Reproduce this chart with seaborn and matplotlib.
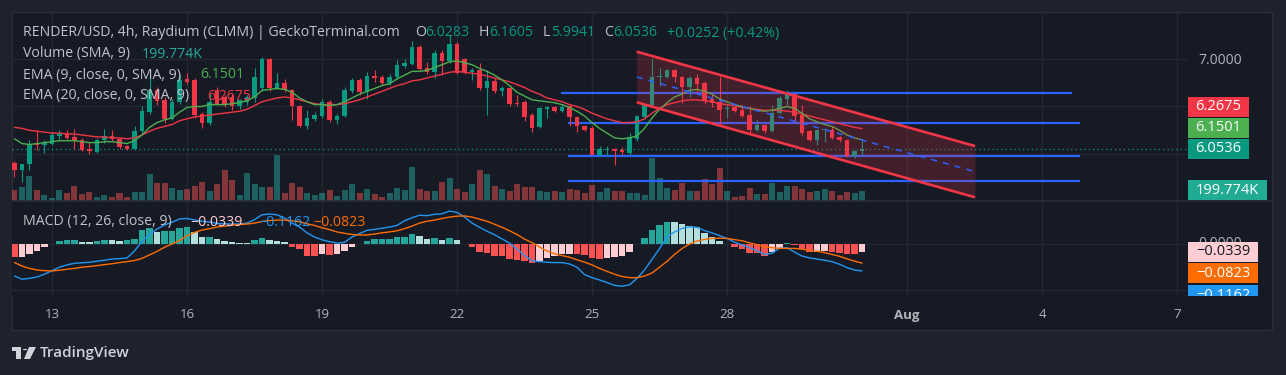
import numpy as np
import pandas as pd
import matplotlib
matplotlib.use("Agg")
import matplotlib.pyplot as plt
import matplotlib.transforms as mtransforms
import seaborn as sns
from matplotlib.patches import Rectangle, Polygon, Circle
from matplotlib.lines import Line2D

# ---------------- data ----------------
first_index = -5   # candle index 0 = Jul 13 00:00, 4h candles
opens = [5.91, 5.83, 5.89, 6.12, 6.09, 6.11, 6.19, 6.22, 6.18, 6.15, 6.05, 6.02, 6.15, 6.19, 6.16, 6.08,
         6.05, 6.24, 6.44, 6.67, 6.57, 6.37, 6.55, 6.79, 6.78, 6.42, 6.33, 6.67, 6.60, 6.60, 6.50, 6.55,
         6.59, 6.69, 7.00, 6.69, 6.75, 6.67, 6.51, 6.30, 6.37, 6.40, 6.55, 6.36, 6.40, 6.66, 6.78, 6.65,
         6.82, 6.81, 6.75, 6.81, 6.93, 6.95, 7.13, 6.91, 6.86, 7.06, 6.98, 7.16, 7.00, 6.86, 6.88, 6.69,
         6.77, 6.66, 6.69, 6.54, 6.55, 6.41, 6.28, 6.47, 6.49, 6.45, 6.51, 6.39, 6.30, 6.27, 5.99, 6.04,
         6.05, 6.04, 6.01, 6.16, 6.39, 6.52, 6.81, 6.81, 6.88, 6.81, 6.71, 6.80, 6.75, 6.58, 6.55, 6.47,
         6.49, 6.46, 6.41, 6.25, 6.31, 6.24, 6.43, 6.58, 6.63, 6.41, 6.24, 6.15, 6.25, 6.25, 6.18, 6.15,
         5.98, 6.0283]
highs = [5.93, 5.90, 6.15, 6.25, 6.15, 6.23, 6.25, 6.25, 6.26, 6.17, 6.13, 6.17, 6.26, 6.25, 6.17, 6.10,
         6.30, 6.51, 6.80, 6.70, 6.60, 6.58, 6.83, 6.85, 6.80, 6.44, 6.64, 6.70, 6.62, 6.63, 6.58, 6.62,
         6.90, 7.02, 7.01, 6.85, 6.79, 6.68, 6.52, 6.46, 6.44, 6.58, 6.57, 6.42, 6.70, 6.80, 6.80, 6.86,
         6.88, 6.83, 6.84, 6.99, 7.00, 7.19, 7.15, 6.97, 7.09, 7.09, 7.25, 7.18, 7.01, 6.91, 6.96, 6.88,
         6.80, 6.72, 6.70, 6.62, 6.57, 6.43, 6.49, 6.51, 6.51, 6.53, 6.53, 6.40, 6.31, 6.29, 6.08, 6.08,
         6.06, 6.07, 6.22, 6.41, 6.53, 7.00, 6.90, 6.89, 6.89, 6.82, 6.82, 6.84, 6.77, 6.63, 6.84, 6.53,
         6.50, 6.52, 6.50, 6.36, 6.32, 6.52, 6.61, 6.67, 6.64, 6.52, 6.25, 6.26, 6.27, 6.30, 6.19, 6.16,
         6.04, 6.1605]
lows = [5.76, 5.71, 5.83, 6.04, 6.01, 6.10, 6.15, 6.16, 6.05, 6.03, 6.00, 6.01, 6.12, 6.14, 6.05, 6.04,
        6.04, 6.22, 6.42, 6.52, 6.33, 6.36, 6.53, 6.74, 6.38, 6.27, 6.31, 6.52, 6.49, 6.46, 6.47, 6.52,
        6.55, 6.66, 6.66, 6.68, 6.65, 6.36, 6.28, 6.26, 6.35, 6.38, 6.34, 6.32, 6.39, 6.64, 6.62, 6.58,
        6.76, 6.73, 6.73, 6.79, 6.90, 6.94, 6.88, 6.84, 6.80, 6.83, 6.96, 6.84, 6.84, 6.78, 6.67, 6.41,
        6.64, 6.61, 6.50, 6.50, 6.35, 6.23, 6.27, 6.38, 6.44, 6.44, 6.30, 6.23, 6.24, 5.99, 5.98, 5.99,
        5.88, 5.99, 5.99, 6.14, 6.37, 6.50, 6.72, 6.80, 6.76, 6.54, 6.60, 6.63, 6.53, 6.49, 6.30, 6.38,
        6.44, 6.39, 6.21, 6.24, 6.22, 6.23, 6.42, 6.52, 6.34, 6.20, 6.14, 6.10, 6.13, 6.16, 6.13, 5.97,
        5.955, 5.9941]
closes = [5.83, 5.89, 6.11, 6.09, 6.13, 6.20, 6.22, 6.17, 6.14, 6.04, 6.03, 6.15, 6.19, 6.16, 6.07, 6.05,
          6.24, 6.45, 6.67, 6.56, 6.37, 6.55, 6.78, 6.76, 6.41, 6.33, 6.55, 6.53, 6.53, 6.50, 6.57, 6.60,
          6.81, 7.00, 6.69, 6.75, 6.67, 6.51, 6.30, 6.38, 6.41, 6.55, 6.36, 6.40, 6.67, 6.78, 6.65, 6.82,
          6.80, 6.75, 6.81, 6.94, 6.96, 7.13, 6.89, 6.86, 7.06, 6.98, 7.16, 6.85, 6.86, 6.88, 6.69, 6.77,
          6.66, 6.69, 6.53, 6.53, 6.39, 6.27, 6.48, 6.49, 6.45, 6.49, 6.39, 6.30, 6.25, 5.99, 6.05, 6.05,
          6.03, 6.02, 6.18, 6.40, 6.53, 6.81, 6.82, 6.88, 6.81, 6.71, 6.80, 6.74, 6.56, 6.54, 6.46, 6.48,
          6.45, 6.40, 6.25, 6.31, 6.24, 6.43, 6.59, 6.63, 6.40, 6.22, 6.15, 6.25, 6.26, 6.17, 6.15, 5.98,
          6.03, 6.0536]
volumes_k = [209, 272, 475, 209, 114, 51, 209, 146, 285, 133, 171, 82, 114, 76, 158, 82,
             171, 171, 513, 342, 342, 253, 209, 228, 291, 355, 196, 323, 589, 399, 114, 526,
             323, 272, 272, 874, 152, 336, 272, 146, 114, 146, 209, 95, 209, 317, 158, 222,
             133, 82, 146, 253, 209, 652, 228, 190, 190, 367, 443, 228, 177, 323, 589, 513,
             291, 228, 190, 317, 272, 272, 190, 177, 190, 171, 228, 215, 152, 298, 162, 247,
             190, 190, 146, 146, 114, 812, 432, 241, 209, 336, 190, 190, 418, 323, 622, 190,
             76, 95, 241, 133, 133, 336, 165, 285, 285, 228, 165, 190, 222, 190, 114, 165,
             146, 190]
ema9 = [6.16, 6.11, 6.10, 6.11, 6.12, 6.13, 6.14, 6.14, 6.14, 6.13, 6.12, 6.12, 6.13, 6.13, 6.12, 6.11,
        6.14, 6.20, 6.28, 6.33, 6.36, 6.38, 6.44, 6.49, 6.50, 6.50, 6.52, 6.52, 6.52, 6.53, 6.54, 6.56,
        6.60, 6.67, 6.68, 6.69, 6.68, 6.65, 6.59, 6.55, 6.52, 6.52, 6.51, 6.52, 6.55, 6.59, 6.63, 6.66,
        6.69, 6.72, 6.74, 6.79, 6.83, 6.87, 6.87, 6.88, 6.91, 6.94, 6.97, 6.98, 6.96, 6.94, 6.90, 6.87,
        6.83, 6.78, 6.72, 6.65, 6.61, 6.57, 6.56, 6.55, 6.54, 6.52, 6.49, 6.45, 6.40, 6.33, 6.27, 6.22,
        6.17, 6.16, 6.17, 6.19, 6.27, 6.38, 6.47, 6.54, 6.60, 6.63, 6.67, 6.68, 6.66, 6.63, 6.58, 6.55,
        6.52, 6.50, 6.48, 6.46, 6.45, 6.46, 6.48, 6.50, 6.48, 6.43, 6.37, 6.34, 6.31, 6.29, 6.25, 6.20,
        6.17, 6.1501]
ema20 = [6.28, 6.27, 6.25, 6.24, 6.23, 6.22, 6.22, 6.21, 6.21, 6.20, 6.19, 6.18, 6.18, 6.17, 6.17, 6.16,
         6.17, 6.20, 6.24, 6.27, 6.29, 6.31, 6.35, 6.37, 6.39, 6.40, 6.41, 6.42, 6.43, 6.44, 6.45, 6.47,
         6.51, 6.55, 6.57, 6.59, 6.60, 6.59, 6.57, 6.55, 6.53, 6.52, 6.52, 6.52, 6.53, 6.55, 6.57, 6.60,
         6.63, 6.66, 6.69, 6.72, 6.74, 6.77, 6.78, 6.80, 6.82, 6.84, 6.86, 6.87, 6.86, 6.85, 6.84, 6.82,
         6.80, 6.78, 6.76, 6.73, 6.70, 6.66, 6.63, 6.59, 6.57, 6.55, 6.52, 6.50, 6.47, 6.43, 6.40, 6.37,
         6.35, 6.33, 6.33, 6.34, 6.37, 6.43, 6.48, 6.52, 6.54, 6.56, 6.57, 6.57, 6.56, 6.55, 6.53, 6.52,
         6.51, 6.49, 6.48, 6.47, 6.46, 6.46, 6.46, 6.45, 6.44, 6.42, 6.40, 6.38, 6.36, 6.34, 6.32, 6.30,
         6.28, 6.2675]
macd_line = [-0.138, -0.152, -0.148, -0.142, -0.130, -0.115, -0.100, -0.090, -0.083, -0.081, -0.079, -0.074,
             -0.070, -0.065, -0.063, -0.060, -0.030, 0.012, 0.040, 0.065, 0.082, 0.094, 0.108, 0.110,
             0.104, 0.098, 0.095, 0.089, 0.087, 0.086, 0.086, 0.090, 0.105, 0.126, 0.129, 0.126,
             0.112, 0.090, 0.073, 0.048, 0.030, 0.018, 0.010, 0.004, 0.007, 0.030, 0.045, 0.059,
             0.063, 0.068, 0.073, 0.080, 0.100, 0.113, 0.124, 0.122, 0.128, 0.130, 0.142, 0.136,
             0.117, 0.090, 0.072, 0.055, 0.040, 0.022, 0.004, -0.022, -0.050, -0.072, -0.076, -0.079,
             -0.080, -0.080, -0.086, -0.100, -0.132, -0.145, -0.155, -0.166, -0.178, -0.182, -0.176, -0.148,
             -0.112, -0.066, -0.020, 0.030, 0.052, 0.067, 0.074, 0.072, 0.058, 0.048, 0.036, 0.024,
             0.008, -0.004, -0.016, -0.029, -0.045, -0.040, -0.018, -0.016, -0.035, -0.052, -0.060, -0.065,
             -0.070, -0.076, -0.087, -0.102, -0.112, -0.1162]
signal_line = [-0.080, -0.095, -0.105, -0.112, -0.115, -0.116, -0.113, -0.109, -0.105, -0.100, -0.097, -0.093,
               -0.089, -0.085, -0.080, -0.076, -0.071, -0.062, -0.047, -0.032, -0.014, 0.000, 0.015, 0.035,
               0.050, 0.060, 0.066, 0.073, 0.077, 0.081, 0.084, 0.086, 0.090, 0.097, 0.101, 0.103,
               0.103, 0.100, 0.096, 0.087, 0.080, 0.070, 0.062, 0.052, 0.046, 0.041, 0.039, 0.039,
               0.043, 0.048, 0.052, 0.057, 0.066, 0.077, 0.090, 0.098, 0.103, 0.110, 0.116, 0.120,
               0.121, 0.116, 0.107, 0.098, 0.085, 0.072, 0.057, 0.041, 0.021, 0.006, -0.013, -0.030,
               -0.042, -0.050, -0.057, -0.068, -0.078, -0.090, -0.105, -0.118, -0.130, -0.140, -0.145, -0.145,
               -0.138, -0.125, -0.100, -0.075, -0.045, -0.020, 0.000, 0.013, 0.020, 0.024, 0.025, 0.024,
               0.019, 0.014, 0.005, -0.003, -0.012, -0.016, -0.019, -0.019, -0.019, -0.022, -0.027, -0.031,
               -0.037, -0.045, -0.053, -0.064, -0.074, -0.0823]
macd_hist = [-0.057, -0.055, -0.041, -0.029, -0.015, 0.001, 0.013, 0.017, 0.018, 0.010, 0.009, 0.014,
             0.019, 0.017, 0.013, 0.018, 0.021, 0.060, 0.068, 0.053, 0.055, 0.058, 0.070, 0.072,
             0.053, 0.029, 0.032, 0.020, 0.014, 0.007, 0.006, 0.005, 0.017, 0.025, 0.017, 0.011,
             0.010, -0.011, -0.023, -0.050, -0.051, -0.043, -0.047, -0.043, -0.029, -0.011, 0.001, 0.014,
             0.020, 0.020, 0.021, 0.029, 0.032, 0.043, 0.034, 0.022, 0.027, 0.017, 0.027, 0.017,
             0.001, -0.011, -0.033, -0.040, -0.052, -0.053, -0.065, -0.069, -0.073, -0.083, -0.073, -0.062,
             -0.052, -0.043, -0.042, -0.044, -0.047, -0.059, -0.065, -0.059, -0.055, -0.050, -0.036, -0.001,
             0.027, 0.060, 0.082, 0.095, 0.094, 0.086, 0.078, 0.072, 0.049, 0.032, 0.014, 0.001,
             -0.011, -0.023, -0.037, -0.040, -0.050, -0.036, -0.022, 0.006, -0.004, -0.023, -0.036, -0.033,
             -0.029, -0.036, -0.040, -0.043, -0.044, -0.0339]

day_ticks = [0, 18, 36, 54, 72, 90, 114, 132, 150]
day_labels = ["13", "16", "19", "22", "25", "28", "Aug", "4", "7"]
price_grid = [6.0, 6.5, 7.0]
price_labelled = [7.0]
macd_grid = [-0.2, 0.0]

# drawings (price levels, candle-index spans)
level_prices = [6.645, 6.329, 5.982, 5.719]
level_start = [67.8, 68.8, 68.8, 68.8]
level_end = [136.0, 137.1, 137.1, 137.1]
channel_x = [77.96, 123.07]
channel_upper = [7.077, 6.084]
channel_lower = [6.544, 5.544]

last_price = 6.0536
vol_sma = 199.774
change_text = "+0.0252 (+0.42%)"

# ---------------- style ----------------
sns.set_theme(style="dark")
plt.rcParams['font.family'] = ['Open Sans', 'DejaVu Sans']

OUTER = '#1e222d'
PANEL = '#161a25'
GRID = '#242833'
BORDER = '#2a2e39'
TXT = '#c0c3cb'
UP = '#089981'
DOWN = '#f23645'

W, H, DPI = 1286, 375, 100
fig = plt.figure(figsize=(W / DPI, H / DPI), dpi=DPI)
fig.patch.set_facecolor(OUTER)


def fx(x):
    return x / W


def fy(y):
    return 1 - y / H


def rect(x0, y0, x1, y1):
    return [x0 / W, 1 - y1 / H, (x1 - x0) / W, (y1 - y0) / H]


fig.patches.append(Rectangle((fx(12), fy(330)), (1272 - 12) / W, (330 - 12) / H,
                             transform=fig.transFigure, facecolor=PANEL,
                             edgecolor=BORDER, lw=1, zorder=-5))

idx = np.arange(first_index, first_index + len(closes))
o = np.array(opens); c = np.array(closes); hi = np.array(highs); lo = np.array(lows)
up = c >= o
ccol = np.where(up, UP, DOWN)

XLIM = (-5.333, 151.33)

# volume axes (bottom layer) and price axes (top layer)
ax = fig.add_axes(rect(12, 12, 1187, 201))
vax = ax.twinx()
ax.set_zorder(3)
vax.set_zorder(2)
ax.patch.set_visible(False)
vax.patch.set_facecolor(PANEL)

vol_cols = [(0.149, 0.651, 0.604, 0.5) if u else (0.937, 0.325, 0.314, 0.5) for u in up]
vax.bar(idx, volumes_k, width=0.8, color=vol_cols, linewidth=0)
vax.set_ylim(0, 189 * 19.02)
for tk in day_ticks:
    vax.axvline(tk, color=GRID, lw=1, zorder=0)
vax.set_yticks([])

ax.set_xlim(*XLIM)
ax.set_ylim(5.5053, 7.4947)
for p in price_grid:
    ax.axhline(p, color=GRID, lw=1, zorder=0)

# horizontal levels (under candles)
ax.hlines(level_prices, level_start, level_end, color='#2962ff', lw=1.6, zorder=2)

# candles
ax.vlines(idx, lo, hi, color=ccol, lw=0.8, zorder=4)
body_h = np.maximum(np.abs(c - o), 0.012)
ax.bar(idx, body_h, bottom=np.minimum(o, c), width=0.66, color=ccol, linewidth=0, zorder=5)

# EMAs
sns.lineplot(x=idx, y=ema20, ax=ax, color='#f23645', lw=1.0, zorder=6, legend=False)
sns.lineplot(x=idx, y=ema9, ax=ax, color='#4caf50', lw=1.0, zorder=6, legend=False)

# parallel channel
ax.fill_between(channel_x, channel_lower, channel_upper, color='#f23645', alpha=0.2, lw=0, zorder=7)
ax.plot(channel_x, channel_upper, color='#f23645', lw=1.9, zorder=8, solid_capstyle='butt')
ax.plot(channel_x, channel_lower, color='#f23645', lw=1.9, zorder=8, solid_capstyle='butt')
mid = [(a + b) / 2 for a, b in zip(channel_upper, channel_lower)]
ax.plot(channel_x, mid, color='#2962ff', lw=1.1, ls=(0, (4, 4)), zorder=8)

# last price line
ax.axhline(last_price, color=UP, lw=0.9, ls=(0, (1, 2.5)), zorder=3)

ax.yaxis.tick_right()
ax.set_yticks(price_labelled)
ax.set_yticklabels([f"{p:.4f}" for p in price_labelled])
ax.tick_params(axis='y', length=0, pad=8, labelsize=10, labelcolor='#b2b5be')
ax.set_xticks([])
for a in (ax, vax):
    for s in a.spines.values():
        s.set_visible(False)
ax.grid(False); vax.grid(False)
ax.set_xlabel(''); ax.set_ylabel(''); vax.set_ylabel('')

# MACD pane
mx = fig.add_axes(rect(12, 201, 1187, 296))
mx.set_zorder(1)
mx.set_facecolor(PANEL)
mx.set_xlim(*XLIM)
mx.set_ylim(-0.2241, 0.1853)
for tk in day_ticks:
    mx.axvline(tk, color=GRID, lw=1, zorder=0)
for p in macd_grid:
    mx.axhline(p, color=GRID, lw=1, zorder=0)
hist_cols = []
prev = None
for v in macd_hist:
    if v >= 0:
        hist_cols.append('#26a69a' if (prev is None or v >= prev) else '#b2dfdb')
    else:
        hist_cols.append('#ffcdd2' if (prev is not None and v > prev) else '#ff5252')
    prev = v
mx.bar(idx, macd_hist, width=0.82, color=hist_cols, linewidth=0, zorder=2)
sns.lineplot(x=idx, y=macd_line, ax=mx, color='#2196f3', lw=1.0, zorder=3, legend=False)
sns.lineplot(x=idx, y=signal_line, ax=mx, color='#ff6d00', lw=1.0, zorder=3, legend=False)
mx.set_yticks([])
mx.set_xticks(day_ticks)
mx.set_xticklabels(day_labels)
mx.tick_params(axis='x', length=0, pad=9, labelsize=9.5, labelcolor='#b2b5be')
for lab in mx.get_xticklabels():
    if lab.get_text() == "Aug":
        lab.set_fontweight('bold')
for s in mx.spines.values():
    s.set_visible(False)
mx.grid(False)
mx.set_xlabel(''); mx.set_ylabel('')

# pane separator
fig.lines.append(Line2D([fx(12), fx(1272)], [fy(201), fy(201)], transform=fig.transFigure,
                        color=BORDER, lw=1.2, zorder=4))

# ---------------- right-side value labels ----------------
fig.canvas.draw()


def data_to_pix_y(a, v):
    return H - a.transData.transform((0, v))[1]


def label_box(yc, text, bg, fg, x0=1188, x1=1249, h=20, clip_bottom=None):
    y0 = yc - h / 2
    y1 = yc + h / 2
    if clip_bottom is not None:
        y1 = min(y1, clip_bottom)
    fig.patches.append(Rectangle((fx(x0), fy(y1)), (x1 - x0) / W, (y1 - y0) / H,
                                 transform=fig.transFigure, facecolor=bg, edgecolor='none', zorder=5))
    tt = fig.text(fx((x0 + x1) / 2), fy(yc), text, color=fg, fontsize=10.5, ha='center', va='center',
                  zorder=6)
    if clip_bottom is not None:
        tt.set_clip_box(mtransforms.Bbox.from_extents(0, H - clip_bottom, W, H))
        tt.set_clip_on(True)


y_last = data_to_pix_y(ax, last_price)
y_e9 = min(data_to_pix_y(ax, ema9[-1]), y_last - 21)
y_e20 = min(data_to_pix_y(ax, ema20[-1]), y_e9 - 21)
label_box(y_e20, f"{ema20[-1]:.4f}", '#f23645', 'white')
label_box(y_e9, f"{ema9[-1]:.4f}", '#4caf50', 'white')
label_box(y_last, f"{last_price:.4f}", UP, 'white')
y_vol = H - vax.transData.transform((0, vol_sma))[1]
label_box(y_vol, f"{vol_sma:.3f}K", '#22ab94', 'white', x1=1267)

# zero-level scale text, mostly hidden behind the first MACD label
y_zero = data_to_pix_y(mx, 0.0)
zt = fig.text(fx(1198), fy(y_zero), "0.0000", color='#b2b5be', fontsize=10, ha='left', va='center', zorder=4)
zt.set_clip_box(mtransforms.Bbox.from_extents(0, H - 241.5, W, H))
zt.set_clip_on(True)

y_h = data_to_pix_y(mx, macd_hist[-1])
y_s = max(data_to_pix_y(mx, signal_line[-1]), y_h + 21.5)
y_m = max(data_to_pix_y(mx, macd_line[-1]), y_s + 22)
label_box(y_h, f"\u2212{abs(macd_hist[-1]):.4f}", '#ffcdd2', '#131722', x1=1258)
label_box(y_s, f"\u2212{abs(signal_line[-1]):.4f}", '#ff6d00', 'white', x1=1258)
label_box(y_m, f"\u2212{abs(macd_line[-1]):.4f}", '#2196f3', 'white', x1=1258, clip_bottom=296)

# ---------------- legend texts ----------------
FS = 10.2


def t(x, y, s, col=TXT, **kw):
    fig.text(fx(x), fy(y), s, color=col, fontsize=FS, ha='left', va='center', zorder=7, **kw)


t(23, 33, "RENDER/USD, 4h, Raydium (CLMM) | GeckoTerminal.com")
t(415, 33, "O"); t(425, 33, f"{opens[-1]:.4f}", UP)
t(479, 33, "H"); t(489, 33, f"{highs[-1]:.4f}", UP)
t(543, 33, "L"); t(551, 33, f"{lows[-1]:.4f}", UP)
t(604, 33, "C"); t(613, 33, f"{closes[-1]:.4f}", UP)
t(667, 33, change_text, UP)
t(23, 54, "Volume (SMA, 9)"); t(142, 54, f"{vol_sma:.3f}K", '#22ab94')
t(23, 75, "EMA (9, close, 0, SMA, 9)"); t(200, 75, f"{ema9[-1]:.4f}", '#4caf50')
t(23, 96, "EMA (20, close, 0, SMA, 9)"); t(207, 96, f"{ema20[-1]:.4f}", '#f23645')
t(23, 222, "MACD (12, 26, close, 9)")
t(190, 222, f"\u2212{abs(macd_hist[-1]):.4f}", '#ffcdd2')
t(258, 222, f"\u2212{abs(macd_line[-1]):.4f}", '#2196f3')
t(313, 222, f"\u2212{abs(signal_line[-1]):.4f}", '#ff6d00')

# ---------------- TradingView logo ----------------
LOGO = '#d1d4dc'
fig.patches.append(Rectangle((fx(12), fy(351)), 9 / W, 4 / H, transform=fig.transFigure,
                             facecolor=LOGO, edgecolor='none'))
fig.patches.append(Rectangle((fx(16), fy(359)), 5 / W, 12 / H, transform=fig.transFigure,
                             facecolor=LOGO, edgecolor='none'))
fig.patches.append(Circle((fx(25), fy(349.5)), 2.2 / W, transform=fig.transFigure,
                          facecolor=LOGO, edgecolor='none'))
fig.patches.append(Polygon([(fx(29), fy(347)), (fx(36), fy(347)), (fx(30), fy(359)), (fx(24), fy(359))],
                           closed=True, transform=fig.transFigure, facecolor=LOGO, edgecolor='none'))
fig.text(fx(40), fy(353), "TradingView", color=LOGO, fontsize=11, fontweight='semibold',
         ha='left', va='center', fontstretch='condensed')

fig.savefig("out.png", dpi=DPI, facecolor=OUTER)
